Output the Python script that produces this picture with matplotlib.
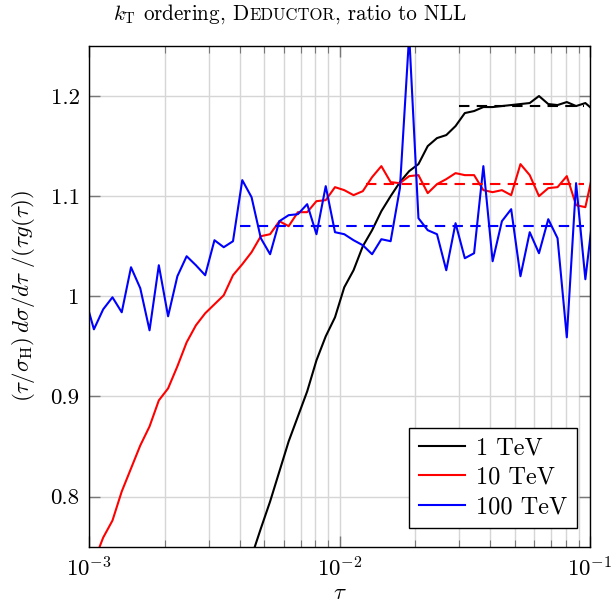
import numpy as np
import matplotlib
matplotlib.use("Agg")
import matplotlib.pyplot as plt
from matplotlib.ticker import FixedLocator, FixedFormatter, LogLocator, NullFormatter

plt.rcParams['font.family'] = 'cmr10'
plt.rcParams['mathtext.fontset'] = 'cm'
plt.rcParams['axes.unicode_minus'] = False
plt.rcParams['axes.formatter.use_mathtext'] = True

# bins: 27 per decade, index -1..54, centres in log tau
bin_idx = np.arange(-1, 55)
tau = 10 ** (-3 + (bin_idx + 0.5) / 27)

# 100 TeV, bins -1..54
r100 = [1.000, 0.967, 0.987, 0.999, 0.984, 1.029, 1.008, 0.966, 1.031, 0.980,
        1.020, 1.040, 1.031, 1.021, 1.056, 1.049, 1.055, 1.116, 1.099, 1.058,
        1.042, 1.075, 1.081, 1.082, 1.092, 1.062, 1.110, 1.064, 1.062, 1.056,
        1.051, 1.042, 1.057, 1.055, 1.108, 1.261, 1.078, 1.066, 1.062, 1.026,
        1.073, 1.038, 1.043, 1.130, 1.035, 1.075, 1.087, 1.020, 1.064, 1.043,
        1.077, 1.058, 0.959, 1.113, 1.017, 1.096]
# 10 TeV, bins 0..54
r10 = [0.735, 0.759, 0.776, 0.805, 0.828, 0.851, 0.870, 0.896, 0.908, 0.930,
       0.954, 0.971, 0.983, 0.992, 1.001, 1.021, 1.032, 1.044, 1.060, 1.062,
       1.075, 1.070, 1.084, 1.084, 1.095, 1.096, 1.109, 1.106, 1.101, 1.105,
       1.119, 1.130, 1.114, 1.113, 1.120, 1.121, 1.103, 1.112, 1.117, 1.123,
       1.121, 1.121, 1.106, 1.104, 1.106, 1.101, 1.132, 1.121, 1.100, 1.108,
       1.109, 1.120, 1.091, 1.089, 1.131]
# 1 TeV, bins 17..54
r1 = [0.740, 0.768, 0.795, 0.825, 0.855, 0.880, 0.905, 0.936, 0.960, 0.979,
      1.009, 1.026, 1.050, 1.066, 1.085, 1.100, 1.114, 1.125, 1.132, 1.150,
      1.158, 1.161, 1.170, 1.183, 1.185, 1.189, 1.189, 1.190, 1.191, 1.192,
      1.193, 1.200, 1.192, 1.191, 1.194, 1.190, 1.193, 1.185]

labels = ['1 TeV', '10 TeV', '100 TeV']
colors = ['black', 'red', 'blue']
# asymptotic values and their tau ranges
asym = [1.190, 1.112, 1.070]
asym_from = [0.030, 0.0128, 0.0040]
asym_to = 0.095

yticks = [0.8, 0.9, 1.0, 1.1, 1.2]
ytick_labels = ['0.8', '0.9', '1', '1.1', '1.2']

fig = plt.figure(figsize=(6.14, 6.09), dpi=100)
ax = fig.add_axes([0.1454, 0.1025, 0.8155, 0.822])

ax.plot(tau[bin_idx >= 17], r1, color=colors[0], lw=1.5, label=labels[0])
ax.plot(tau[bin_idx >= 0], r10, color=colors[1], lw=1.5, label=labels[1])
ax.plot(tau, r100, color=colors[2], lw=1.5, label=labels[2])
for a, t0, c in zip(asym, asym_from, colors):
    ax.plot([t0, asym_to], [a, a], color=c, lw=1.5, ls=(0, (5, 3.5)))

ax.set_xscale('log')
ax.set_xlim(1e-3, 1e-1)
ax.set_ylim(0.75, 1.25)
ax.yaxis.set_major_locator(FixedLocator(yticks))
ax.yaxis.set_major_formatter(FixedFormatter(ytick_labels))
ax.xaxis.set_major_locator(LogLocator(base=10))
ax.xaxis.set_minor_locator(LogLocator(base=10, subs=np.arange(2, 10)))
ax.xaxis.set_minor_formatter(NullFormatter())

ax.grid(True, which='major', color='#d6d6d6', lw=1.0)
ax.grid(True, which='minor', axis='x', color='#d6d6d6', lw=1.0)
ax.set_axisbelow(True)
ax.tick_params(which='both', direction='in', top=True, right=True,
               color='#777777', labelsize=16.5, pad=7)
ax.tick_params(which='major', length=8, width=1)
ax.tick_params(which='minor', length=5, width=0.8)
for s in ax.spines.values():
    s.set_linewidth(1.0)

ax.set_xlabel(r'$\tau$', fontsize=16.5, labelpad=2)
ax.set_ylabel(r'$(\tau/\sigma_{\mathrm{H}})\,d\sigma/d\tau\ /(\tau g(\tau))$',
              fontsize=16.5, labelpad=10)

leg = ax.legend(loc='lower right', fontsize=17.5, frameon=True, fancybox=False,
                edgecolor='black', framealpha=1, borderpad=0.4,
                labelspacing=0.3, handlelength=1.9, handletextpad=0.45,
                borderaxespad=0, bbox_to_anchor=(0.974, 0.037))
leg.get_frame().set_linewidth(1.0)

# title with small caps imitation
ty = 1 - 20 / 609
t1 = fig.text(113 / 614, ty, r'$k_{\mathrm{T}}$ ordering, D', fontsize=15.2,
              va='baseline', ha='left')
t2 = ax.annotate('EDUCTOR', xy=(1, ty), xycoords=(t1, 'figure fraction'),
                 fontsize=12, va='baseline', ha='left',
                 annotation_clip=False)
t3 = ax.annotate(', ratio to NLL', xy=(1, ty), xycoords=(t2, 'figure fraction'),
                 fontsize=15.2, va='baseline', ha='left',
                 annotation_clip=False)

fig.savefig('out.png', dpi=100)
